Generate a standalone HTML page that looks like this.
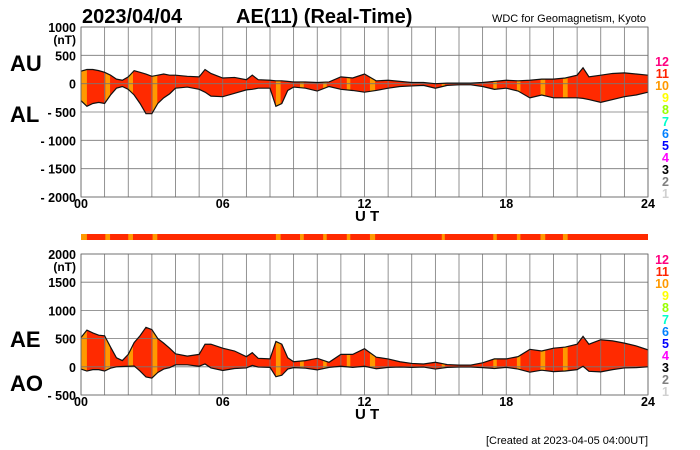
<!DOCTYPE html>
<html><head><meta charset="utf-8"><style>
body{margin:0;background:#fff;}
svg{display:block;font-family:"Liberation Sans",sans-serif;}
</style></head><body>
<svg id="c" width="700" height="450" viewBox="0 0 700 450"></svg>
<script>
const hours=[0,0.25,0.5,0.75,1,1.25,1.5,1.75,2,2.25,2.5,2.75,3,3.25,3.5,3.75,4,4.5,5,5.25,5.5,6,6.5,7,7.25,7.5,8,8.25,8.5,8.75,9,9.5,10,10.5,11,11.5,12,12.5,13,13.5,14,14.5,15,15.5,16,16.5,17,17.5,18,18.5,19,19.5,20,20.5,21,21.25,21.5,22,22.5,23,23.5,24];
const auValues=[220,250,250,230,200,150,80,60,120,230,200,170,130,150,170,150,150,130,120,250,180,100,110,70,150,70,60,50,50,40,30,30,20,30,120,100,170,50,60,40,20,20,0,10,10,10,20,40,60,50,60,80,80,100,150,280,120,150,180,190,170,150];
const alValues=[-300,-400,-350,-330,-350,-200,-80,-50,-100,-200,-350,-530,-530,-350,-250,-180,-80,-60,-100,-150,-220,-230,-170,-110,-100,-80,-80,-400,-350,-120,-60,-80,-130,-50,-100,-120,-150,-120,-80,-50,-40,-30,-80,-30,-20,-20,-50,-100,-80,-130,-250,-200,-250,-250,-250,-260,-280,-330,-280,-230,-200,-150];
const tenStart=[0,1.03,2.0,3.03,8.25,9.27,10.25,11.25,12.23,15.27,17.45,18.45,19.45,20.4];
const tenEnd=[0.25,1.23,2.2,3.23,8.45,9.43,10.4,11.4,12.45,15.4,17.6,18.6,19.65,20.6];
const topTicks=[1000,500,0,-500,-1000,-1500,-2000];
const botTicks=[2000,1500,1000,500,0,-500];
const xLabels=["00","06","12","18","24"];
const legendNums=[12,11,10,9,8,7,6,5,4,3,2,1];
const legendCols=["#ff0080","#ff2200","#ff9900","#ffff00","#99ff00","#00ffcc","#0080ff","#0000ff","#ff00ff","#000000","#808080","#d0d0d0"];

const svg=document.getElementById('c');
const NS='http://www.w3.org/2000/svg';
function mk(tag,attrs,parent){const e=document.createElementNS(NS,tag);for(const k in attrs)e.setAttribute(k,attrs[k]);(parent||svg).appendChild(e);return e;}
const X0=81,X1=648;
const xs=h=>X0+(X1-X0)*h/24;
const RED="#ff2a00",ORG="#ff9900";

function txt(s,x,y,size,anchor,name,extra){const t=mk('text',Object.assign({x:x,y:y,'font-size':size,'font-weight':'bold','text-anchor':anchor||'start',fill:'#000'},extra||{}));t.textContent=s;return t;}

function panel(id,yTop,yBot,vTop,vBot,ticks,upper,lower,lab1,lab2,lab1y,lab2y,legTop){
  const ys=v=>yTop+(vTop-v)*(yBot-yTop)/(vTop-vBot);
  const g=mk('g',{});
  
  
  let pts=hours.map((h,i)=>xs(h)+','+ys(upper[i])).concat(hours.slice().reverse().map((h,j)=>{const i=hours.length-1-j;return xs(h)+','+ys(lower[i]);}));
  const cp=mk('clipPath',{id:id+'clip'},g);
  mk('polygon',{points:pts.join(' ')},cp);
  const area=mk('polygon',{points:pts.join(' '),fill:RED},g);
  
  
  tenStart.forEach((s,i)=>{const r=mk('rect',{x:xs(s),y:yTop,width:xs(tenEnd[i])-xs(s),height:yBot-yTop,fill:ORG,'clip-path':'url(#'+id+'clip)'},g);
    
    });
  for(let h=0;h<=24;h++)mk('line',{x1:xs(h),x2:xs(h),y1:yTop,y2:yBot,stroke:'#777','stroke-width':0.8},g);
  ticks.forEach(v=>{mk('line',{x1:X0,x2:X1,y1:ys(v),y2:ys(v),stroke:'#777','stroke-width':0.8},g);
    txt((v<0?'- '+(-v):''+v),76,ys(v)+5,12.5,'end',id+'-y-tick-label');});
  txt('(nT)',76,ys(ticks[0])+17,12,'end',id+'-y-unit');
  const l1=mk('polyline',{points:hours.map((h,i)=>xs(h)+','+ys(upper[i])).join(' '),fill:'none',stroke:'#111','stroke-width':1.2},g);
  
  
  const l2=mk('polyline',{points:hours.map((h,i)=>xs(h)+','+ys(lower[i])).join(' '),fill:'none',stroke:'#111','stroke-width':1.2},g);
  
  
  mk('rect',{x:X0,y:yTop,width:X1-X0,height:yBot-yTop,fill:'none',stroke:'#666','stroke-width':0.8},g);
  xLabels.forEach((s,i)=>txt(s,xs(i*6),yBot+11,12.5,'middle',id+'-x-tick-label'));
  txt('U T',355,yBot+24,15,'start',id+'-x-axis-title');
  txt(lab1,10,lab1y,22,'start',id+'-'+lab1.toLowerCase()+'-label');
  txt(lab2,10,lab2y,22,'start',id+'-'+lab2.toLowerCase()+'-label');
  legendNums.forEach((n,i)=>txt(''+n,669,legTop+i*12,12.5,'end',id+'-legend-entry',{fill:legendCols[i]}));
}
panel('top',27,197,1000,-2000,topTicks,auValues,alValues,'AU','AL',71,122,66);
const aeValues=auValues.map((u,i)=>u-alValues[i]);
const aoValues=auValues.map((u,i)=>(u+alValues[i])/2);
panel('bottom',254,395,2000,-500,botTicks,aeValues,aoValues,'AE','AO',347,391,264);

const strip=mk('rect',{x:X0,y:234,width:X1-X0,height:6,fill:RED});


tenStart.forEach((s,i)=>{const r=mk('rect',{x:xs(s),y:234,width:xs(tenEnd[i])-xs(s),height:6,fill:ORG});
  
  });

txt('2023/04/04',82,23,20,'start','date-title');
txt('AE(11) (Real-Time)',236,23,20,'start','chart-title');
txt('WDC for Geomagnetism, Kyoto',646,22,11,'end','source-label',{'font-weight':'normal'});
txt('[Created at 2023-04-05 04:00UT]',648,444,11,'end','created-label',{'font-weight':'normal'});
</script>
</body></html>
